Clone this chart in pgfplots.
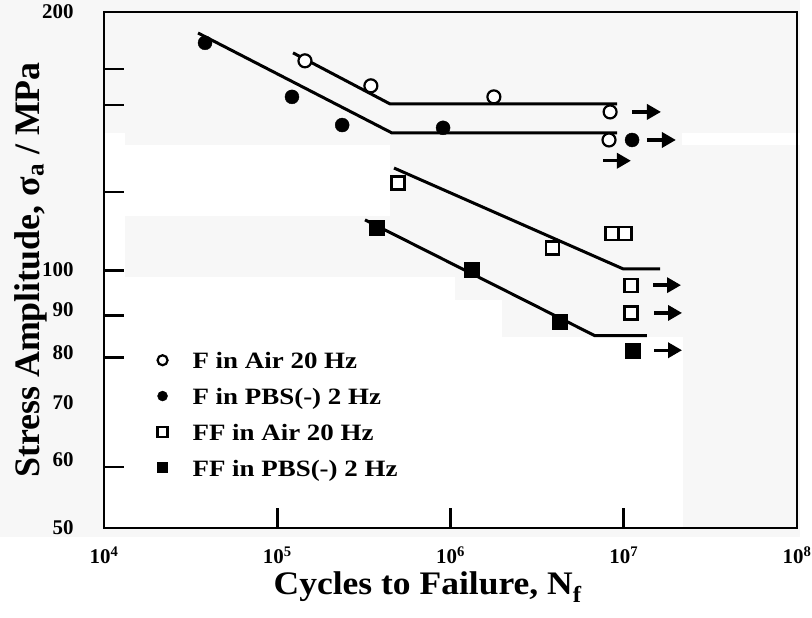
\documentclass[border=0pt]{standalone}
\usepackage{fontspec}
\setmainfont{Liberation Serif}
\newfontfamily\legfont[FakeStretch=1.15]{Liberation Serif}
\newfontfamily\xlabfont[FakeStretch=1.08]{Liberation Serif}
\usepackage{pgfplots}
\pgfplotsset{compat=1.18}
\usetikzlibrary{arrows.meta}
\definecolor{bggray}{RGB}{247,247,247}
\begin{document}
\begin{tikzpicture}[x=1bp,y=1bp]
\useasboundingbox (0,0) rectangle (812,618);
% light scan background
\fill[bggray] (0,81) rectangle (800,618);
\fill[white] (104,90) rectangle (125,485);
\fill[white] (125,402) rectangle (390,473);
\fill[white] (104,90) rectangle (455,341);
\fill[white] (455,90) rectangle (502,318);
\fill[white] (502,90) rectangle (683,281);
\fill[white] (682,473) rectangle (800,485);
\begin{axis}[
  at={(104bp,90bp)}, anchor=south west,
  scale only axis, width=693bp, height=516bp,
  xmode=log, ymode=log,
  xmin=1e4, xmax=1e8, ymin=50, ymax=200,
  axis line style={line width=2.8bp},
  tick align=inside, tick pos=left,
  major tick length=20bp,
  every tick/.style={black, line width=2.8bp},
  xminorticks=false, yminorticks=false,
  xtick={1e4,1e5,1e6,1e7,1e8},
  xticklabels={10\textsuperscript{4},10\textsuperscript{5},10\textsuperscript{6},10\textsuperscript{7},10\textsuperscript{8}},
  ytick={58.9,79.0,88.4,99.9,123.3,155.8,171.6},
  yticklabels={{},{},{},{},{},{},{}},
  extra y ticks={50,60,70,80,90,100,200},
  extra y tick labels={50,60,70,80,90,100,200},
  extra y tick style={tick style={draw=none}, yticklabel style={xshift=-9bp}},
  yticklabel style={font=\bfseries\fontsize{21}{21}\selectfont, xshift=-18bp},
  xticklabel style={font=\bfseries\fontsize{21}{21}\selectfont, yshift=-15bp},
  xlabel={Cycles to Failure, N\textsubscript{f}},
  ylabel={Stress Amplitude, σ\textsubscript{a} / MPa},
  xlabel style={font=\xlabfont\bfseries\fontsize{33}{33}\selectfont, at={(axis description cs:0.467,-0.129)}, anchor=base},
  ylabel style={font=\bfseries\fontsize{36}{36}\selectfont, at={(axis description cs:-0.105,0.5)}, anchor=center},
  legend style={at={(axis description cs:0.077,0.349)}, anchor=north west, draw=none, fill=none,
    font=\legfont\bfseries\fontsize{23.5}{27}\selectfont, row sep=11.5bp, column sep=23bp, inner sep=0pt},
  legend image post style={mark size=5bp},
  legend cell align=left,
  clip=false,
]
% fitted lines
\addplot[forget plot, line width=3bp] coordinates {(1.233e5,179.2) (4.48e5,156.2) (9.15e6,156.2)};
\addplot[forget plot, line width=3bp] coordinates {(3.49e4,189.0) (4.59e5,144.5) (9.15e6,144.5)};
\addplot[forget plot, line width=3bp] coordinates {(4.72e5,131.5) (9.9e6,100.3) (1.62e7,100.3)};
\addplot[forget plot, line width=3bp] coordinates {(3.21e5,114.4) (6.82e6,83.8) (1.36e7,83.8)};
% data
\addplot[only marks, mark=*, mark size=6.5bp, mark options={fill=white, draw=black, line width=2.2bp}]
  coordinates {(1.445e5,175.4) (3.47e5,164.0) (1.78e6,159.2) (8.34e6,152.9) (8.22e6,141.8)};
\addlegendentry{\strut F in Air 20 Hz}
\addplot[only marks, mark=*, mark size=7bp, mark options={fill=black, draw=black}]
  coordinates {(3.83e4,184.1) (1.216e5,159.2) (2.37e5,147.6) (9.06e5,146.5) (1.117e7,141.8)};
\addlegendentry{\strut F in PBS(-) 2 Hz}
\addplot[only marks, mark=square*, mark size=6.5bp, mark options={fill=white, draw=black, line width=2.2bp}]
  coordinates {(4.98e5,126.3) (3.86e6,106.1) (1.017e7,110.4) (8.55e6,110.4) (1.10e7,96.0) (1.10e7,89.1)};
\addlegendentry{\strut FF in Air 20 Hz}
\addplot[only marks, mark=square*, mark size=7.5bp, mark options={fill=black, draw=black}]
  coordinates {(3.77e5,112.0) (1.33e6,100.0) (4.28e6,87.0) (1.12e7,80.6)};
\addlegendentry{\strut FF in PBS(-) 2 Hz}
% run-out arrows
\draw[line width=3.4bp, -{Triangle[length=14bp,width=15bp]}] (axis cs:1.117e7,152.9) -- (axis cs:1.64e7,152.9);
\draw[line width=3.4bp, -{Triangle[length=14bp,width=15bp]}] (axis cs:1.36e7,141.8) -- (axis cs:2.0e7,141.8);
\draw[line width=3.4bp, -{Triangle[length=14bp,width=15bp]}] (axis cs:7.59e6,134.1) -- (axis cs:1.10e7,134.1);
\draw[line width=3.4bp, -{Triangle[length=14bp,width=15bp]}] (axis cs:1.475e7,96.0) -- (axis cs:2.14e7,96.0);
\draw[line width=3.4bp, -{Triangle[length=14bp,width=15bp]}] (axis cs:1.50e7,89.1) -- (axis cs:2.17e7,89.1);
\draw[line width=3.4bp, -{Triangle[length=14bp,width=15bp]}] (axis cs:1.50e7,80.6) -- (axis cs:2.17e7,80.6);
\end{axis}
\end{tikzpicture}
\end{document}
